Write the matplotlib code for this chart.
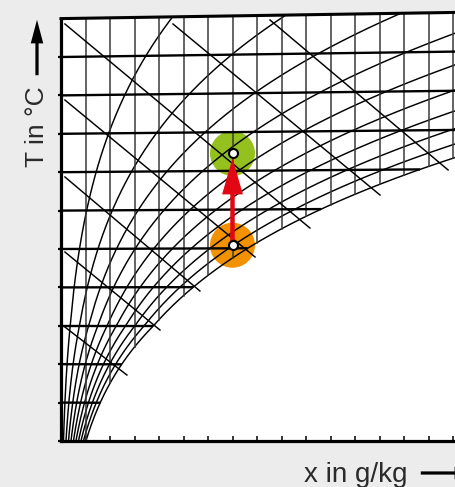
import numpy as np
import matplotlib
matplotlib.use("Agg")
import matplotlib.pyplot as plt
from matplotlib.patches import Polygon, FancyArrowPatch, ArrowStyle

plt.rcParams["font.family"] = ["Liberation Sans", "DejaVu Sans"]

# --- diagram layout (pixels of the 455x487 picture) ---
W, H = 455, 487
PX_X = 24.5      # px per g/kg
PX_T = 7.68      # px per K
X0, Y0 = 61, 441 # origin of the diagram in px
SKEW = 0.00125   # tilt of the isotherms
P_AIR = 101325.0

# --- data ---
T_MIN, T_MAX = -15, 40
isotherms = [-10, -5, 0, 5, 10, 15, 20, 25, 30, 35]
x_lines = [1, 2, 3, 4, 5, 6, 7, 8, 9, 10, 11, 12, 13, 14, 15, 16]
phi_values = [0.1, 0.2, 0.3, 0.4, 0.5, 0.6, 0.7, 0.8, 0.9, 1.0]

# isenthalps, read as start/end points (x in g/kg, T-axis value)
h_start_x = [0.16, 0.16, 0.16, 0.16, 0.16, 4.57, 8.53]
h_start_y = [-0.16, 9.61, 19.38, 29.4, 39.3, 39.3, 39.82]
h_end_x = [2.69, 4.04, 5.67, 7.92, 10.16, 13.02, 15.8]
h_end_y = [-6.41, -0.55, 4.53, 8.96, 12.73, 17.03, 20.29]

# heating at constant x: start / end state
state_x = 7.0
state_T = [10.4, 22.25]
state_colors = ["#f39200", "#95c11f"]


def p_sat(T):
    T = np.asarray(T, dtype=float)
    water = 611.2 * np.exp(17.62 * T / (243.12 + T))
    ice = 611.2 * np.exp(22.46 * T / (272.62 + T))
    return np.where(T < 0, ice, water)


def x_of(T, phi):
    ps = phi * p_sat(T)
    return 622.0 * ps / (P_AIR - ps)


def y_of(T, x):
    return T * (1 + SKEW * x)


x_max = (W - X0) / PX_X
y_lo = T_MIN
y_hi = T_MIN + (Y0 - 10) / PX_T

fig = plt.figure(figsize=(W / 100, H / 100), dpi=100)
fig.patch.set_facecolor("#ececec")
ax = fig.add_axes([X0 / W, (H - Y0) / H, (W - X0) / W, (Y0 - 10) / H])
ax.set_xlim(0, x_max)
ax.set_ylim(y_lo, y_hi)
ax.patch.set_visible(False)

# white chart area, bounded on top by the 40 degC isotherm
area = Polygon([(0, T_MIN), (x_max, T_MIN), (x_max, y_of(T_MAX, x_max)),
                (0, T_MAX)], closed=True, facecolor="white",
               edgecolor="none", zorder=0)
ax.add_patch(area)

T_grid = np.linspace(T_MIN - 1, T_MAX + 6, 600)
xs_grid = x_of(T_grid, 1.0)
ys_grid = y_of(T_grid, xs_grid)

# relative humidity curves
for phi in phi_values:
    xc = x_of(T_grid, phi)
    ln, = ax.plot(xc, y_of(T_grid, xc), color="black", lw=1.05, zorder=2)
    ln.set_clip_path(area)

# lines of constant x, down to the saturation curve
for xg in x_lines:
    y_bot = np.interp(xg, xs_grid, ys_grid)
    ln, = ax.plot([xg, xg], [y_bot, y_of(T_MAX + 2, xg)], color="#3a3a3a",
                  lw=1.1, zorder=2)
    ln.set_clip_path(area)

# isotherms, up to the saturation curve
for T in isotherms:
    x_end = min(float(x_of(T, 1.0)), x_max)
    xx = np.array([0, x_end])
    ax.plot(xx, y_of(T, xx), color="black", lw=1.7, zorder=3,
            solid_capstyle="butt")

# isenthalps
for xa, ya, xb, yb in zip(h_start_x, h_start_y, h_end_x, h_end_y):
    ax.plot([xa, xb], [ya, yb], color="black", lw=1.05, zorder=2)

# top border (40 degC isotherm)
ax.plot([0, x_max], [y_of(T_MAX, 0), y_of(T_MAX, x_max)], color="black",
        lw=2.2, zorder=4, clip_on=False, solid_capstyle="projecting")

# axes
for side in ["top", "right"]:
    ax.spines[side].set_visible(False)
ax.spines["left"].set_linewidth(2.3)
ax.spines["bottom"].set_linewidth(2.3)
ax.spines["left"].set_bounds(T_MIN, T_MAX)
ax.spines["left"].set_zorder(4)
ax.spines["bottom"].set_zorder(4)
ax.set_yticks([T_MIN] + isotherms)
ax.set_xticks(x_lines)
ax.tick_params(axis="y", direction="out", length=2.5, width=1.6,
               labelleft=False)
ax.tick_params(axis="x", direction="in", length=3.8, width=1.1,
               labelbottom=False)

# state points and heating arrow
ys = [y_of(T, state_x) for T in state_T]
ax.scatter([state_x] * 2, ys, s=1050, c=state_colors, linewidths=0, zorder=1)
arrow = FancyArrowPatch((state_x, ys[0]), (state_x, ys[1]),
                        arrowstyle=ArrowStyle.Simple(head_length=26,
                                                     head_width=15,
                                                     tail_width=3.2),
                        mutation_scale=1, shrinkA=0, shrinkB=3.5,
                        color="#e30613", lw=0, zorder=5)
ax.add_patch(arrow)
ax.scatter([state_x] * 2, ys, s=42, c="white", edgecolors="black",
           linewidths=1.5, zorder=6)

# axis labels with arrows
fig.text(37 / W, 1 - 127 / H, "T in °C", rotation=90, ha="center",
         va="center", fontsize=19, color="#2a2a2a")
fig.text(356 / W, (H - 481.7) / H, "x in g/kg", ha="center",
         va="baseline", fontsize=20, color="#2a2a2a")
fig.patches.append(FancyArrowPatch(
    (37 / W, 1 - 78 / H), (37 / W, 1 - 17 / H), transform=fig.transFigure,
    arrowstyle=ArrowStyle.Simple(head_length=17, head_width=9, tail_width=2.3),
    mutation_scale=1, color="black", lw=0))
fig.patches.append(FancyArrowPatch(
    (418 / W, 1 - 473 / H), (481 / W, 1 - 473 / H), transform=fig.transFigure,
    arrowstyle=ArrowStyle.Simple(head_length=17, head_width=9, tail_width=2.3),
    mutation_scale=1, color="black", lw=0))

fig.savefig("out.png", dpi=100, facecolor=fig.get_facecolor())
